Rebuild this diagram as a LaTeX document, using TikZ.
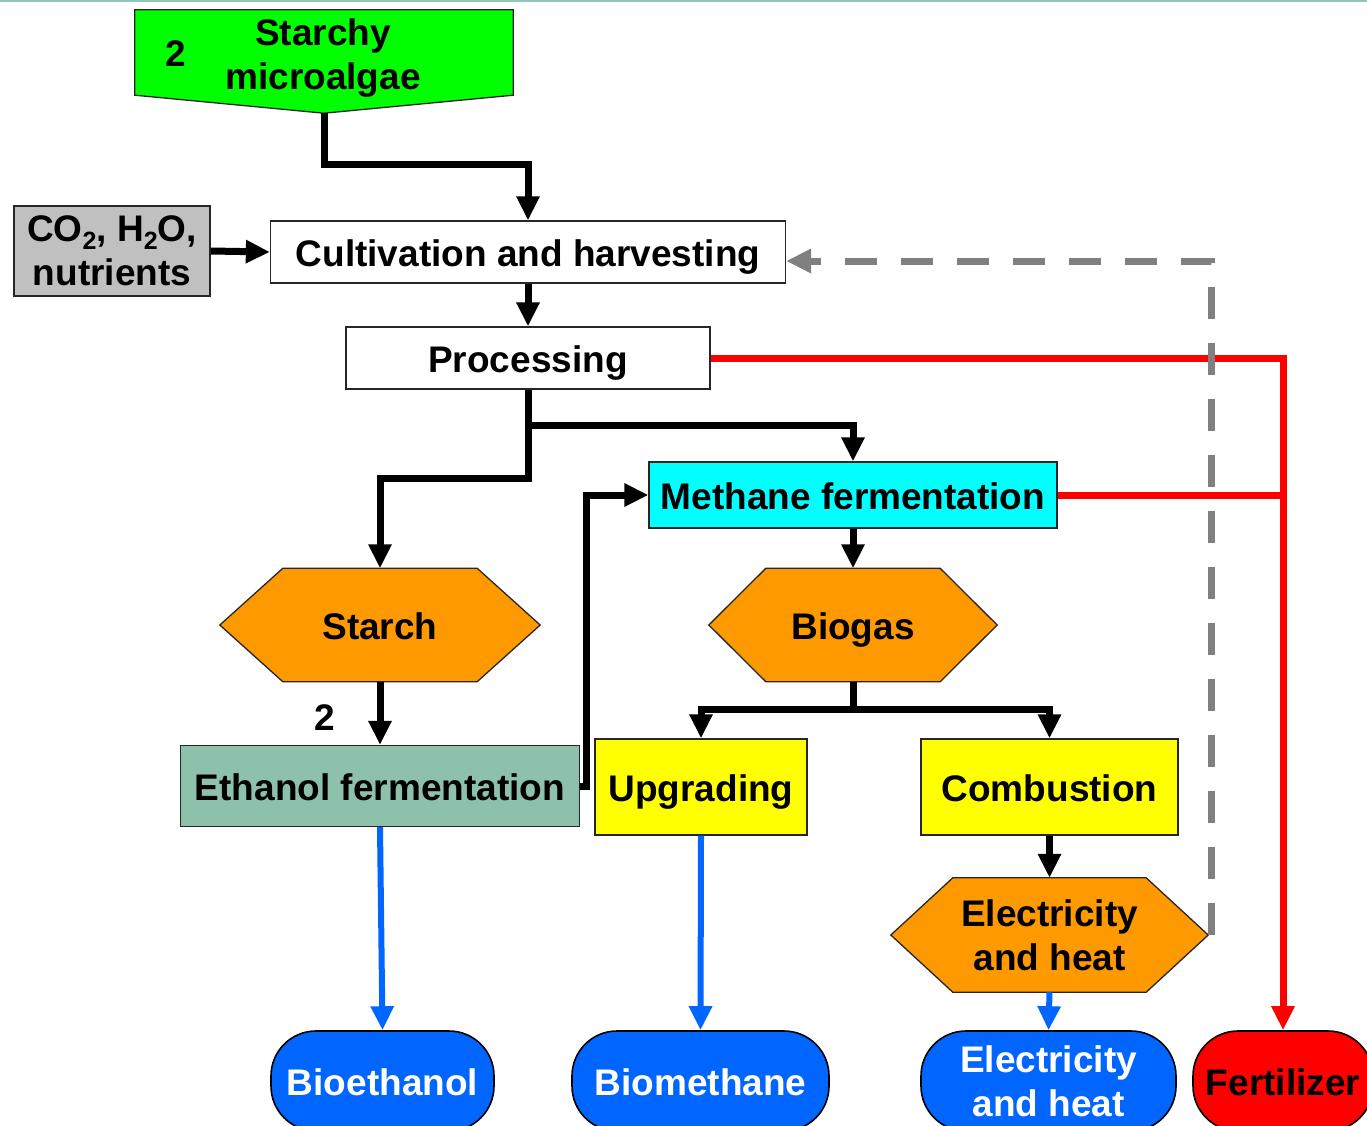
\documentclass[tikz,border=0pt]{standalone}
\usepackage{fontspec}
\setmainfont{Liberation Sans}
\usetikzlibrary{arrows.meta,calc,backgrounds}
\definecolor{algaegreen}{HTML}{00FF00}
\definecolor{inputgray}{HTML}{C0C0C0}
\definecolor{methcyan}{HTML}{00FFFF}
\definecolor{hexorange}{HTML}{FF9900}
\definecolor{upgyellow}{HTML}{FFFF00}
\definecolor{ethteal}{HTML}{8EC1AB}
\definecolor{prodblue}{HTML}{0066FF}
\definecolor{fertred}{HTML}{FF0000}
\definecolor{dashgray}{HTML}{808080}
\definecolor{topteal}{HTML}{8FC8B8}
\newcommand\subtwo{\raisebox{-0.22em}{\fontsize{25}{25}\selectfont 2}}
\begin{document}
\begin{tikzpicture}[x=1pt,y=-1pt,
  every node/.style={font=\bfseries\fontsize{37}{44}\selectfont, align=center, inner sep=0pt},
  sl/.style={text height=36.5pt, text depth=7.8pt},
  box/.style={draw=black!85, line width=1.3pt, rectangle},
  hexfill/.style={draw=black!85, line width=1.3pt, fill=hexorange},
  prod/.style={draw=black, line width=1.6pt, rectangle, rounded corners=45pt, minimum height=100pt},
  arr/.style={line width=7pt, black, -{Triangle[length=24pt,width=22pt]}},
  plainline/.style={line width=7pt, black},
  bluearr/.style={line width=6pt, prodblue, -{Triangle[length=24pt,width=22pt]}},
  redarr/.style={line width=7pt, fertred, -{Triangle[length=24pt,width=22pt]}},
  redline/.style={line width=7pt, fertred},
  grayarr/.style={line width=7pt, dashgray, dash pattern=on 32pt off 24pt, -{Triangle[length=25pt,width=23pt]}}
]
\useasboundingbox (0,0) rectangle (1367,1125);
\draw[topteal, line width=2pt] (0,0.5) -- (1367,0.5);

% nodes
\node[minimum width=378pt, minimum height=85pt] (algae) at (324,52.5) {};
\node (algaetext) at (323,58.5) {Starchy\\microalgae};
\node[sl] (two1) at (176,52) {2};
\node[box, fill=inputgray, minimum width=196pt, minimum height=90pt] (inp) at (112,251) {CO\subtwo, H\subtwo O,\\nutrients};
\node[sl, box, fill=white, minimum width=515pt, minimum height=62pt] (cult) at (528,252) {Cultivation and harvesting};
\node[sl, box, fill=white, minimum width=364pt, minimum height=62pt] (proc) at (528,358) {Processing};
\node[sl, box, fill=methcyan, minimum width=408pt, minimum height=66pt] (meth) at (853,495) {Methane fermentation};
\node[sl, minimum width=320pt, minimum height=113pt] (starch) at (380,625) {Starch};
\node[sl, minimum width=288pt, minimum height=113pt] (biogas) at (853,625) {Biogas};
\node[sl, box, fill=ethteal, minimum width=399pt, minimum height=81pt] (eth) at (380,786) {Ethanol fermentation};
\node[sl] (two2) at (325,716) {2};
\node[sl, box, fill=upgyellow, minimum width=212pt, minimum height=96pt] (upg) at (701,787) {Upgrading};
\node[sl, box, fill=upgyellow, minimum width=257pt, minimum height=96pt] (comb) at (1049.5,787) {Combustion};
\node[minimum width=317pt, minimum height=114pt] (eh) at (1049.5,935) {Electricity\\and heat};
\node[sl, prod, fill=prodblue, text=white, minimum width=223pt] (bioeth) at (382.5,1081) {Bioethanol};
\node[sl, prod, fill=prodblue, text=white, minimum width=257pt] (biometh) at (700.5,1081) {Biomethane};
\node[prod, fill=prodblue, text=white, minimum width=255pt] (elec) at (1048.5,1081) {Electricity\\and heat};
\node[sl, prod, fill=fertred, minimum width=180pt] (fert) at (1283,1081) {Fertilizer};

% shaped backgrounds
\begin{pgfonlayer}{background}
\path[draw=black!85, line width=1.3pt, fill=algaegreen]
  (algae.north west) -- (algae.north east) -- (algae.south east)
  -- ($(algae.south)+(0,18)$) -- (algae.south west) -- cycle;
\path[hexfill] ([xshift=63pt]starch.north west) -- ([xshift=-63pt]starch.north east) -- (starch.east)
  -- ([xshift=-63pt]starch.south east) -- ([xshift=63pt]starch.south west) -- (starch.west) -- cycle;
\path[hexfill] ([xshift=57pt]biogas.north west) -- ([xshift=-57pt]biogas.north east) -- (biogas.east)
  -- ([xshift=-57pt]biogas.south east) -- ([xshift=57pt]biogas.south west) -- (biogas.west) -- cycle;
\path[hexfill] ([xshift=62pt]eh.north west) -- ([xshift=-62pt]eh.north east) -- (eh.east)
  -- ([xshift=-62pt]eh.south east) -- ([xshift=62pt]eh.south west) -- (eh.west) -- cycle;
\end{pgfonlayer}

\coordinate (algtip) at ($(algae.south)+(0,18)$);
\coordinate (split1) at ($(proc.south)+(0,36)$);
\coordinate (split2) at ($(biogas.south)+(0,28)$);

% black connectors
\draw[arr] (algtip) |- ($(cult.north)+(0,-56)$) -- (cult.north);
\draw[arr] (inp.east) -- (cult.west);
\draw[arr] (cult.south) -- (proc.north);
\draw[arr] (proc.south) -- (split1) -| (meth.north);
\draw[arr] (split1) -- ++(0,53) -| (starch.north);
\draw[arr] (starch.south) -- (eth.north);
\draw[arr] (eth.east) -- ++(6,0) |- (meth.west);
\draw[arr] (meth.south) -- (biogas.north);
\draw[plainline] (biogas.south) -- (split2);
\draw[arr] (split2) -| (upg.north);
\draw[arr] (split2) -| (comb.north);
\draw[arr] (comb.south) -- (eh.north);

% blue connectors
\draw[bluearr] (eth.south) -- (bioeth.north);
\draw[bluearr] (upg.south) -- (biometh.north);
\draw[bluearr] (eh.south) -- (elec.north);

% red connectors
\draw[redarr] (proc.east) -| (fert.north);
\draw[redline] (meth.east) -- (fert.north |- meth.east);

% gray dashed feedback
\draw[grayarr] ($(eh.east)+(3,0)$) |- ($(cult.east)+(0,9)$);
\end{tikzpicture}
\end{document}
